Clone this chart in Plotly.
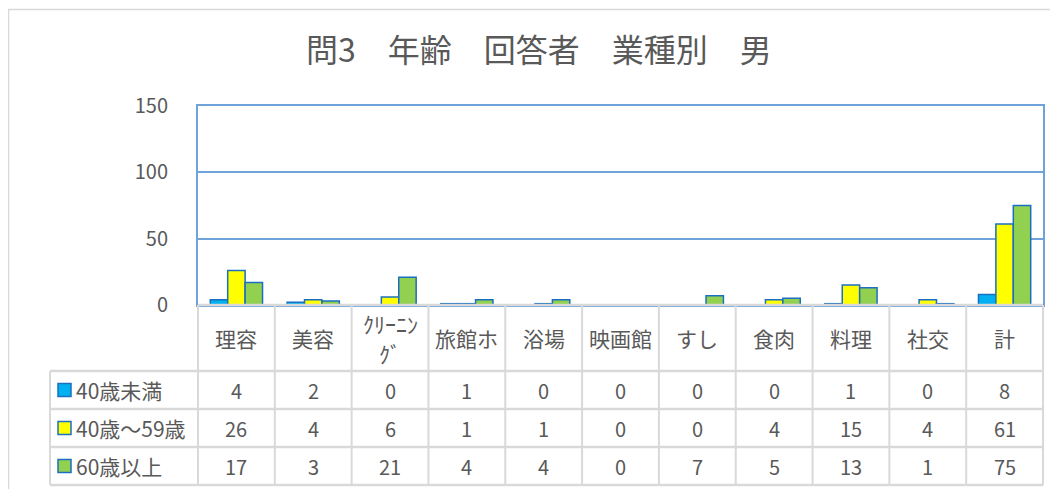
import plotly.graph_objects as go

# ---------------- data ----------------
categories = ["理容", "美容", "ｸﾘｰﾆﾝｸﾞ", "旅館ホ", "浴場", "映画館", "すし", "食肉", "料理", "社交", "計"]
series_names = ["40歳未満", "40歳～59歳", "60歳以上"]
under40 = [4, 2, 0, 1, 0, 0, 0, 0, 1, 0, 8]
age40_59 = [26, 4, 6, 1, 1, 0, 0, 4, 15, 4, 61]
over60 = [17, 3, 21, 4, 4, 0, 7, 5, 13, 1, 75]
y_ticks = [0, 50, 100, 150]
title_text = "問3　年齢　回答者　業種別　男"

series_values = [under40, age40_59, over60]
series_colors = ["#00B0F0", "#FFFF00", "#92D050"]
outline = "#1A6FC0"

# ---------------- layout geometry (pixels, in screenshot coordinates) ----------------
W, H = 1058, 489
OFF = 8                                       # page body margin offset
PL, PR, PT, PB = 198, 1043, 106, 305          # plot area
ROWS = [305, 371, 409, 447, 485]              # table row lines
LEG_L = 50
GRID = "#D9D9D9"
BLUE = "#6FA3DA"
TXT = "#595959"
FONT = "Noto Sans CJK JP"


def px(x):
    return (x - OFF) / W


def py(y):
    return 1 - (y - OFF) / H


fig = go.Figure()
for name, vals, col in zip(series_names, series_values, series_colors):
    fig.add_trace(go.Bar(
        x=list(range(len(categories))), y=vals, name=name,
        marker=dict(color=col, line=dict(color=outline, width=1.5)),
        hoverinfo="y+name",
    ))

shapes = []
# outer chart border
shapes.append(dict(type="rect", xref="paper", yref="paper",
                   x0=px(8.5), x1=px(W + 20), y0=py(H + 20), y1=py(9.5),
                   line=dict(color="#D9D9D9", width=1.5), layer="below"))
# table horizontal lines
ncat = len(categories)
colw = (PR - PL) / ncat
for i, yy in enumerate(ROWS):
    x0 = PL if i == 0 else LEG_L
    shapes.append(dict(type="line", xref="paper", yref="paper",
                       x0=px(x0), x1=px(PR), y0=py(yy), y1=py(yy),
                       line=dict(color=GRID, width=2.5), layer="above"))
# table vertical lines
for k in range(ncat + 1):
    xx = PL + colw * k
    shapes.append(dict(type="line", xref="paper", yref="paper",
                       x0=px(xx), x1=px(xx), y0=py(ROWS[0]), y1=py(ROWS[-1]),
                       line=dict(color=GRID, width=2), layer="above"))
shapes.append(dict(type="line", xref="paper", yref="paper",
                   x0=px(LEG_L), x1=px(LEG_L), y0=py(ROWS[1]), y1=py(ROWS[-1]),
                   line=dict(color=GRID, width=2), layer="above"))

annotations = []
# category header
hdr_c = (ROWS[0] + ROWS[1]) / 2
for j, c in enumerate(categories):
    if len(c) > 5:
        parts = [c[:5], c[5:]]
        for t, yy in zip(parts, [hdr_c - 15, hdr_c + 15]):
            annotations.append(dict(x=j, y=py(yy), xref="x", yref="paper", text=t,
                                    xanchor="center", yanchor="middle",
                                    showarrow=False, font=dict(size=22, color=TXT, family=FONT)))
    else:
        annotations.append(dict(x=j, y=py(hdr_c), xref="x", yref="paper", text=c,
                                xanchor="center", yanchor="middle",
                                showarrow=False, font=dict(size=21, color=TXT, family=FONT)))

# rows: legend keys + values
for i, (name, vals, col) in enumerate(zip(series_names, series_values, series_colors)):
    yc = (ROWS[i + 1] + ROWS[i + 2]) / 2
    shapes.append(dict(type="rect", xref="paper", yref="paper",
                       x0=px(58), x1=px(71), y0=py(yc + 6.5), y1=py(yc - 6.5),
                       fillcolor=col, line=dict(color=outline, width=1.5), layer="above"))
    annotations.append(dict(x=px(74), y=py(yc), xref="paper", yref="paper", text=name,
                            xanchor="left", yanchor="middle", showarrow=False,
                            font=dict(size=21, color=TXT, family=FONT)))
    for j, v in enumerate(vals):
        annotations.append(dict(x=j, y=py(yc), xref="x", yref="paper", text=str(v),
                                xanchor="center", yanchor="middle",
                                showarrow=False, font=dict(size=20, color=TXT, family=FONT)))

fig.update_layout(
    template="none",
    width=W, height=H,
    margin=dict(l=0, r=0, t=0, b=0, pad=0),
    paper_bgcolor="white", plot_bgcolor="white",
    showlegend=False,
    barmode="group", bargap=0.32, bargroupgap=0,
    title=dict(text=title_text, x=px(539), y=py(51), xref="paper", yref="paper",
               xanchor="center", yanchor="middle", automargin=False,
               font=dict(size=32, color=TXT, family=FONT)),
    xaxis=dict(domain=[px(PL), px(PR)], range=[-0.5, ncat - 0.5], automargin=False,
               showticklabels=False, showgrid=False, zeroline=False,
               showline=True, mirror=True, linecolor=BLUE, linewidth=2, ticks="",
               fixedrange=True),
    yaxis=dict(domain=[py(PB), py(PT)], range=[0, 150], tickvals=y_ticks, automargin=False,
               showgrid=True, gridcolor=BLUE, gridwidth=1.5, zeroline=False,
               showline=True, mirror=True, linecolor=BLUE, linewidth=2,
               ticks="", ticklabelstandoff=24,
               tickfont=dict(size=20, color=TXT, family=FONT), fixedrange=True),
    shapes=shapes, annotations=annotations,
    font=dict(family=FONT, color=TXT),
)

fig.write_html("out.html")
